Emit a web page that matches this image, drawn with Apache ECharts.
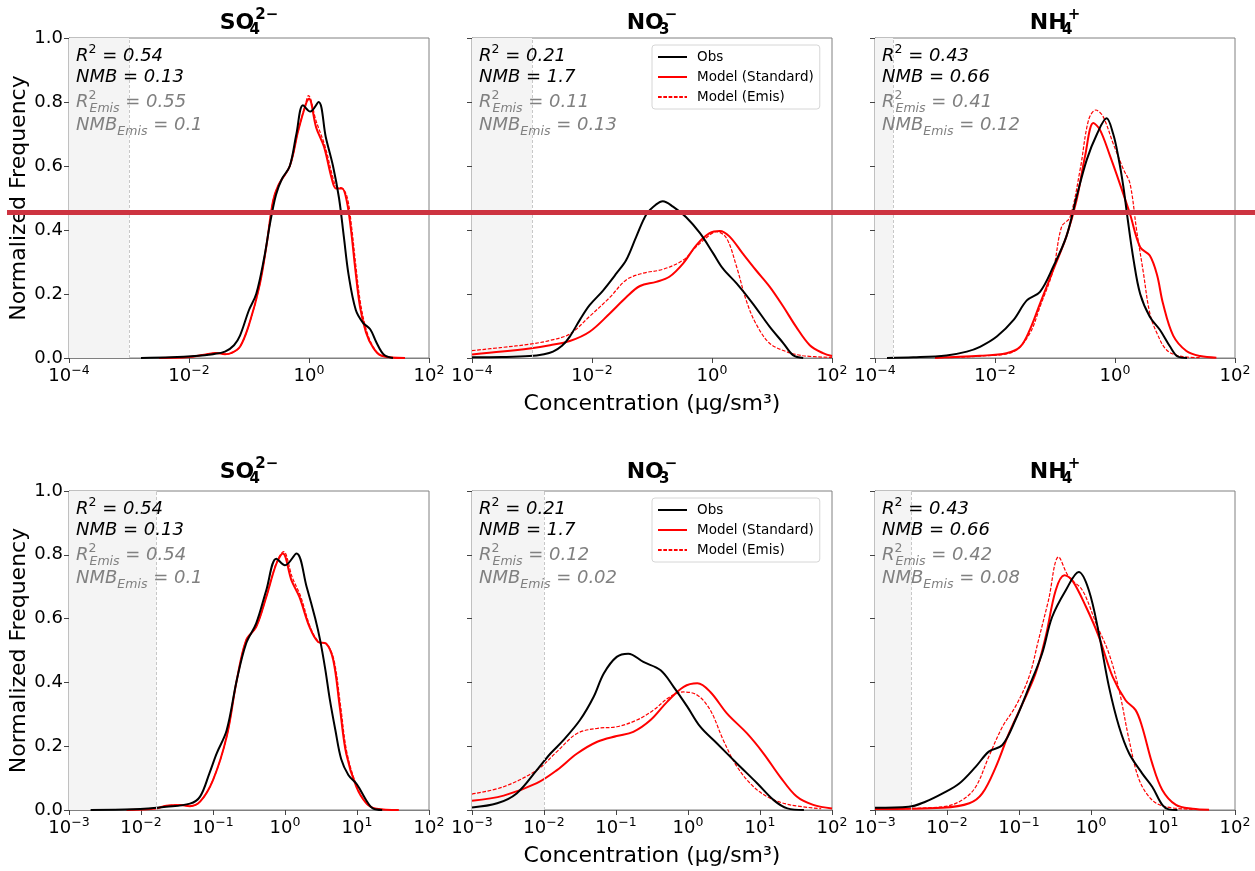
<!DOCTYPE html>
<html><head><meta charset="utf-8">
<script src="https://cdn.jsdelivr.net/npm/echarts@6.0.0/dist/echarts.min.js"></script>
<style>html,body{margin:0;padding:0;background:#fff}#c{width:1255px;height:871px}</style>
</head><body><div id="c"></div>
<script>
// ---- Data: pairs of [log10(concentration), normalized frequency] ----
// Top row (x range 1e-4 .. 1e2)
const tA_obs = [[-2.8,0],[-2.3,0.002],[-1.9,0.006],[-1.6,0.012],[-1.4,0.02],[-1.25,0.04],[-1.15,0.07],[-1.0,0.15],[-0.88,0.2],[-0.75,0.31],[-0.65,0.42],[-0.55,0.51],[-0.45,0.56],[-0.32,0.6],[-0.21,0.7],[-0.1,0.79],[0.02,0.77],[0.16,0.8],[0.28,0.69],[0.4,0.6],[0.5,0.5],[0.58,0.38],[0.66,0.26],[0.78,0.15],[0.9,0.11],[1.02,0.09],[1.12,0.05],[1.25,0.01],[1.4,0]];
const tA_std = [[-2.5,0],[-2.0,0.003],[-1.7,0.012],[-1.55,0.016],[-1.4,0.012],[-1.3,0.015],[-1.15,0.035],[-0.99,0.11],[-0.82,0.23],[-0.71,0.35],[-0.6,0.49],[-0.51,0.54],[-0.32,0.6],[-0.18,0.71],[-0.04,0.8],[0.0,0.81],[0.12,0.72],[0.25,0.66],[0.38,0.56],[0.45,0.53],[0.55,0.53],[0.63,0.49],[0.7,0.4],[0.77,0.28],[0.85,0.16],[0.95,0.08],[1.06,0.035],[1.2,0.008],[1.6,0]];
const tA_emis = [[-2.5,0],[-2.0,0.003],[-1.7,0.012],[-1.55,0.016],[-1.4,0.012],[-1.3,0.015],[-1.15,0.035],[-0.99,0.11],[-0.82,0.23],[-0.71,0.35],[-0.6,0.49],[-0.51,0.54],[-0.32,0.6],[-0.18,0.71],[-0.05,0.8],[-0.01,0.82],[0.12,0.74],[0.27,0.66],[0.39,0.57],[0.46,0.535],[0.56,0.53],[0.64,0.5],[0.71,0.41],[0.78,0.29],[0.86,0.17],[0.96,0.085],[1.07,0.035],[1.2,0.008],[1.6,0]];

const tB_obs = [[-4,0.002],[-3.5,0.003],[-3.04,0.006],[-2.8,0.012],[-2.65,0.02],[-2.5,0.038],[-2.37,0.067],[-2.2,0.12],[-2.04,0.165],[-1.82,0.21],[-1.59,0.265],[-1.43,0.306],[-1.26,0.38],[-1.09,0.45],[-0.93,0.48],[-0.82,0.49],[-0.65,0.473],[-0.43,0.44],[-0.2,0.39],[0.02,0.327],[0.18,0.28],[0.41,0.233],[0.68,0.17],[0.96,0.098],[1.19,0.046],[1.35,0.009],[1.52,0]];
const tB_std = [[-4,0.011],[-3.5,0.02],[-3.04,0.03],[-2.7,0.04],[-2.37,0.053],[-2.04,0.082],[-1.7,0.14],[-1.43,0.19],[-1.2,0.225],[-0.93,0.238],[-0.71,0.254],[-0.48,0.296],[-0.26,0.353],[-0.04,0.39],[0.13,0.397],[0.29,0.38],[0.51,0.327],[0.73,0.275],[0.96,0.223],[1.19,0.16],[1.4,0.098],[1.63,0.04],[1.85,0.015],[2,0.006]];
const tB_emis = [[-4,0.023],[-3.5,0.033],[-3.04,0.043],[-2.7,0.055],[-2.37,0.075],[-2.04,0.13],[-1.7,0.19],[-1.43,0.244],[-1.15,0.265],[-0.82,0.277],[-0.48,0.306],[-0.26,0.348],[-0.04,0.384],[0.07,0.395],[0.24,0.375],[0.41,0.285],[0.57,0.18],[0.73,0.108],[0.96,0.046],[1.24,0.02],[1.52,0.007],[2,0.002]];

const tC_obs = [[-3.8,0],[-3.36,0.002],[-2.81,0.008],[-2.47,0.02],[-2.25,0.035],[-1.97,0.067],[-1.69,0.119],[-1.47,0.18],[-1.25,0.207],[-1.03,0.285],[-0.81,0.38],[-0.64,0.504],[-0.47,0.62],[-0.3,0.7],[-0.14,0.749],[-0.03,0.7],[0.055,0.629],[0.14,0.535],[0.2,0.45],[0.31,0.306],[0.42,0.2],[0.58,0.129],[0.75,0.0875],[0.92,0.035],[1.05,0.004],[1.2,0]];
const tC_std = [[-3,0],[-2.81,0.002],[-2.25,0.007],[-1.81,0.015],[-1.58,0.035],[-1.42,0.088],[-1.25,0.17],[-1.03,0.275],[-0.81,0.38],[-0.64,0.494],[-0.5,0.63],[-0.36,0.734],[-0.25,0.713],[-0.08,0.63],[0.08,0.545],[0.25,0.45],[0.42,0.346],[0.58,0.32],[0.7,0.26],[0.8,0.17],[0.97,0.07],[1.19,0.022],[1.42,0.006],[1.69,0.001]];
const tC_emis = [[-3,0],[-2.25,0.006],[-1.69,0.02],[-1.42,0.077],[-1.25,0.16],[-1.03,0.275],[-0.89,0.41],[-0.75,0.44],[-0.58,0.59],[-0.44,0.744],[-0.32,0.775],[-0.2,0.755],[-0.03,0.67],[0.14,0.59],[0.25,0.545],[0.36,0.4],[0.47,0.27],[0.58,0.14],[0.7,0.077],[0.86,0.025],[1.08,0.006],[1.42,0.001]];

// Bottom row (x range 1e-3 .. 1e2)
const bD_obs = [[-2.7,0],[-2.11,0.002],[-1.65,0.01],[-1.32,0.02],[-1.18,0.042],[-1.05,0.115],[-0.95,0.177],[-0.81,0.25],[-0.67,0.407],[-0.54,0.522],[-0.4,0.585],[-0.26,0.689],[-0.12,0.788],[0.0,0.767],[0.16,0.804],[0.3,0.7],[0.42,0.6],[0.49,0.53],[0.56,0.44],[0.62,0.35],[0.7,0.25],[0.78,0.16],[0.88,0.11],[1.0,0.08],[1.13,0.03],[1.22,0.005],[1.35,0]];
const bD_std = [[-2.2,0],[-1.79,0.005],[-1.65,0.0135],[-1.46,0.016],[-1.32,0.012],[-1.18,0.026],[-1.0,0.094],[-0.81,0.23],[-0.67,0.407],[-0.54,0.532],[-0.4,0.574],[-0.26,0.668],[-0.12,0.772],[-0.03,0.804],[0.09,0.72],[0.2,0.668],[0.34,0.574],[0.46,0.527],[0.57,0.522],[0.67,0.47],[0.76,0.324],[0.85,0.177],[0.99,0.073],[1.13,0.021],[1.27,0.004],[1.58,0]];
const bD_emis = [[-2.2,0],[-1.79,0.005],[-1.65,0.0135],[-1.46,0.016],[-1.32,0.012],[-1.18,0.026],[-1.0,0.094],[-0.81,0.23],[-0.67,0.407],[-0.54,0.532],[-0.4,0.574],[-0.26,0.668],[-0.12,0.775],[-0.02,0.81],[0.1,0.73],[0.22,0.668],[0.35,0.574],[0.47,0.527],[0.58,0.52],[0.68,0.47],[0.77,0.33],[0.86,0.18],[1.0,0.073],[1.13,0.021],[1.27,0.004],[1.58,0]];

const bE_obs = [[-3,0.008],[-2.65,0.021],[-2.38,0.052],[-2.1,0.125],[-1.91,0.177],[-1.73,0.219],[-1.5,0.282],[-1.31,0.355],[-1.17,0.428],[-0.99,0.48],[-0.83,0.49],[-0.62,0.464],[-0.38,0.438],[-0.2,0.386],[-0.01,0.324],[0.17,0.261],[0.4,0.209],[0.68,0.146],[0.96,0.084],[1.19,0.031],[1.38,0.005],[1.61,0]];
const bE_std = [[-3,0.029],[-2.56,0.045],[-2.1,0.084],[-1.82,0.125],[-1.54,0.177],[-1.26,0.214],[-0.99,0.232],[-0.76,0.245],[-0.52,0.282],[-0.29,0.339],[-0.06,0.386],[0.13,0.397],[0.31,0.37],[0.54,0.303],[0.82,0.24],[1.05,0.177],[1.28,0.104],[1.51,0.042],[1.74,0.016],[2,0.005]];
const bE_emis = [[-3,0.05],[-2.56,0.073],[-2.1,0.125],[-1.82,0.183],[-1.54,0.24],[-1.26,0.256],[-0.99,0.261],[-0.71,0.282],[-0.48,0.313],[-0.25,0.355],[-0.06,0.37],[0.13,0.36],[0.31,0.313],[0.49,0.219],[0.68,0.136],[0.91,0.073],[1.14,0.037],[1.42,0.016],[1.85,0.004]];

const bF_obs = [[-3,0.007],[-2.53,0.01],[-2.3,0.026],[-2.06,0.052],[-1.83,0.083],[-1.6,0.136],[-1.42,0.183],[-1.23,0.204],[-1.05,0.282],[-0.86,0.386],[-0.68,0.49],[-0.54,0.605],[-0.35,0.689],[-0.17,0.746],[-0.03,0.689],[0.11,0.553],[0.25,0.386],[0.39,0.261],[0.53,0.177],[0.71,0.115],[0.85,0.073],[0.99,0.016],[1.08,0.002],[1.2,0]];
const bF_std = [[-3,0.003],[-2.06,0.007],[-1.69,0.021],[-1.51,0.052],[-1.32,0.136],[-1.14,0.24],[-0.95,0.334],[-0.77,0.428],[-0.63,0.543],[-0.49,0.689],[-0.37,0.736],[-0.26,0.72],[-0.07,0.637],[0.11,0.543],[0.3,0.418],[0.48,0.344],[0.62,0.313],[0.71,0.261],[0.85,0.146],[0.99,0.063],[1.18,0.016],[1.41,0.004],[1.64,0.001]];
const bF_emis = [[-3,0.003],[-2.06,0.01],[-1.79,0.031],[-1.6,0.073],[-1.42,0.167],[-1.23,0.261],[-1.05,0.324],[-0.86,0.418],[-0.73,0.532],[-0.59,0.658],[-0.45,0.793],[-0.31,0.731],[-0.12,0.689],[0.07,0.585],[0.25,0.49],[0.39,0.376],[0.53,0.219],[0.67,0.094],[0.85,0.031],[1.04,0.01],[1.41,0.002]];

// detection-limit shading thresholds (concentration)
const thrTop = [1e-3, 1e-3, 2e-4];
const thrBottom = [0.0164, 0.01, 0.0032];

// statistics text: [R2, NMB, R2_Emis, NMB_Emis]
const statsTop = [['0.54','0.13','0.55','0.1'],['0.21','1.7','0.11','0.13'],['0.43','0.66','0.41','0.12']];
const statsBottom = [['0.54','0.13','0.54','0.1'],['0.21','1.7','0.12','0.02'],['0.43','0.66','0.42','0.08']];

const species = [['SO','4','2−'],['NO','3','−'],['NH','4','+']];
const seriesNames = ['Obs','Model (Standard)','Model (Emis)'];
const rowMin = [1e-4, 1e-3];
const rowMax = [1e2, 1e2];
const rowInterval = [2, 1];

// ---- layout ----
const FONT = 'DejaVu Sans';
const GL = [69, 472, 875];
const GW = 360;
const GT = [38, 491];
const GH = [320, 319];

const rowData = [
  [[tA_obs,tA_std,tA_emis],[tB_obs,tB_std,tB_emis],[tC_obs,tC_std,tC_emis]],
  [[bD_obs,bD_std,bD_emis],[bE_obs,bE_std,bE_emis],[bF_obs,bF_std,bF_emis]]
];
const thr = [thrTop, thrBottom];
const stats = [statsTop, statsBottom];

const grids = [], xAxes = [], yAxes = [], series = [], titles = [];
let idx = 0;
for (let r = 0; r < 2; r++) {
  for (let c = 0; c < 3; c++) {
    grids.push({left: GL[c], top: GT[r], width: GW, height: GH[r], show: true, borderColor: '#808080', borderWidth: 1, backgroundColor: 'transparent'});
    xAxes.push({
      type: 'log', logBase: 10, gridIndex: idx, min: rowMin[r], max: rowMax[r], interval: rowInterval[r],
      axisLine: {show: true, lineStyle: {color: '#808080', width: 1}},
      axisTick: {show: true, length: 5, lineStyle: {color: '#444', width: 1}},
      splitLine: {show: false},
      axisLabel: {
        margin: 6, color: '#000', fontFamily: FONT,
        formatter: function (v) {
          const e = Math.round(Math.log10(v));
          return '{b|10}{s|' + (e < 0 ? '−' : '') + Math.abs(e) + '}';
        },
        rich: {
          b: {fontSize: 18, lineHeight: 24, fontFamily: FONT, color: '#000'},
          s: {fontSize: 12.5, lineHeight: 12, verticalAlign: 'top', fontFamily: FONT, color: '#000'}
        }
      },
      name: c === 1 ? 'Concentration (µg/sm³)' : '',
      nameLocation: 'middle', nameGap: 35,
      nameTextStyle: {fontSize: 22, fontFamily: FONT, color: '#000'}
    });
    yAxes.push({
      type: 'value', gridIndex: idx, min: 0, max: 1, interval: 0.2,
      axisLine: {show: true, lineStyle: {color: '#808080', width: 1}},
      axisTick: {show: true, length: 5, lineStyle: {color: '#444', width: 1}},
      splitLine: {show: false},
      axisLabel: {show: c === 0, margin: 6, fontSize: 18, fontFamily: FONT, color: '#000', formatter: v => v.toFixed(1)},
      name: c === 0 ? 'Normalized Frequency' : '',
      nameLocation: 'middle', nameGap: 29, nameRotate: 90,
      nameTextStyle: {fontSize: 22, fontFamily: FONT, color: '#000'}
    });
    const sets = rowData[r][c];
    const colors = ['#000000', '#ff0000', '#ff0000'];
    for (let k = 0; k < 3; k++) {
      const s = {
        name: seriesNames[k], type: 'line', xAxisIndex: idx, yAxisIndex: idx,
        data: sets[k].map(p => [Math.pow(10, p[0]), p[1]]),
        symbol: 'none', showSymbol: false, smooth: 0.35, color: colors[k],
        lineStyle: k === 2 ? {color: colors[k], width: 1.2, type: [3.7, 1.6]} : {color: colors[k], width: 2},
        z: k === 0 ? 3 : 2, animation: false, clip: true
      };
      if (k === 0) {
        s.markArea = {silent: true, itemStyle: {color: '#f4f4f4'}, data: [[{xAxis: rowMin[r]}, {xAxis: thr[r][c]}]]};
        s.markLine = {silent: true, symbol: 'none', precision: 10, label: {show: false},
          lineStyle: {color: '#c8c8c8', width: 1, type: [3, 2]}, data: [{xAxis: thr[r][c]}]};
      }
      series.push(s);
    }
    // panel title
    const sp = species[c];
    titles.push({
      text: '{t|' + sp[0] + '}{bz|' + sp[1] + '}{sp|' + sp[2] + '}',
      left: GL[c] + GW / 2, top: r === 0 ? 23 : 472, textAlign: 'center', textVerticalAlign: 'middle', padding: 0,
      textStyle: {fontWeight: 'bold', rich: {
        t: {fontSize: 22, fontWeight: 'bold', lineHeight: 30, fontFamily: FONT, color: '#000'},
        bz: {fontSize: 15, fontWeight: 'bold', lineHeight: 15, verticalAlign: 'bottom', width: 1, fontFamily: FONT, color: '#000'},
        sp: {fontSize: 15, fontWeight: 'bold', lineHeight: 15, verticalAlign: 'top', fontFamily: FONT, color: '#000'}
      }}
    });
    // statistics
    const st = stats[r][c];
    const lines = [
      ['{i|R}{sup|2}{i| = ' + st[0] + '}', '#000', 18],
      ['{i|NMB = ' + st[1] + '}', '#000', 39],
      ['{i|R}{supz|2}{sub|Emis}{i| = ' + st[2] + '}', '#808080', 64.5],
      ['{i|NMB}{sub|Emis}{i| = ' + st[3] + '}', '#808080', 87]
    ];
    lines.forEach(L => {
      titles.push({
        text: L[0], left: GL[c] + 7, top: GT[r] + L[2], textAlign: 'left', textVerticalAlign: 'middle', padding: 0,
        textStyle: {fontWeight: 'normal', fontStyle: 'italic', fontFamily: FONT, color: L[1], rich: {
          i: {fontSize: 18, fontStyle: 'italic', fontWeight: 'normal', lineHeight: 26, fontFamily: FONT, color: L[1]},
          sup: {fontSize: 12.5, fontStyle: 'normal', fontWeight: 'normal', lineHeight: 12, verticalAlign: 'top', fontFamily: FONT, color: L[1]},
          supz: {fontSize: 12.5, fontStyle: 'normal', fontWeight: 'normal', lineHeight: 12, verticalAlign: 'top', width: 1, fontFamily: FONT, color: L[1]},
          sub: {fontSize: 12.5, fontStyle: 'italic', fontWeight: 'normal', lineHeight: 12, verticalAlign: 'bottom', fontFamily: FONT, color: L[1]}
        }}
      });
    });
    idx++;
  }
}

const legendBase = {
  orient: 'vertical', left: 652, itemWidth: 29, itemHeight: 14, itemGap: 6,
  padding: [5, 6, 5, 5], borderColor: '#d6d6d6', borderWidth: 1, borderRadius: 3,
  backgroundColor: 'rgba(255,255,255,0.85)',
  itemStyle: {color: 'rgba(0,0,0,0)', borderWidth: 0, opacity: 0},
  textStyle: {fontSize: 13.5, fontFamily: FONT, color: '#000', padding: [0, 0, 0, 5]},
  data: seriesNames, selectedMode: false
};

const option = {
  animation: false,
  backgroundColor: '#fff',
  textStyle: {fontFamily: FONT},
  grid: grids, xAxis: xAxes, yAxis: yAxes, series: series, title: titles,
  legend: [Object.assign({top: 45}, legendBase), Object.assign({top: 498}, legendBase)],
  graphic: [{type: 'rect', z: 100, shape: {x: 7, y: 210, width: 1248, height: 5}, style: {fill: '#cd3340'}}]
};
const chart = echarts.init(document.getElementById('c'), null, {renderer: 'canvas'});
chart.setOption(option);
</script></body></html>
